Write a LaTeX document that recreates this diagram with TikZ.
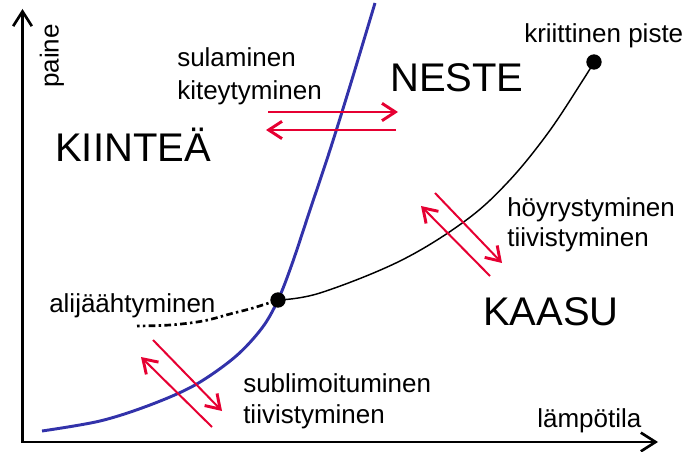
\documentclass[tikz,border=0pt]{standalone}
\usepackage{fontspec}
\setmainfont{Liberation Sans}
\usetikzlibrary{arrows.meta}
\definecolor{phasered}{RGB}{230,0,50}
\definecolor{phaseblue}{RGB}{50,50,170}
\tikzset{
  axisline/.style={line width=2.2pt,-{Straight Barb[length=11pt,width=14pt,line width=2pt]}},
  transarrow/.style={phasered,line width=1.5pt,-{Straight Barb[length=10pt,width=13pt,line width=2.2pt]}},
  bigtxt/.style={inner sep=0pt,anchor=base west,font=\fontsize{30pt}{34pt}\selectfont},
  smalltxt/.style={inner sep=0pt,anchor=base west,font=\fontsize{19.5pt}{23pt}\selectfont},
  pointdot/.style={circle,fill=black,inner sep=0pt,minimum size=11.5pt},
}
\begin{document}
\begin{tikzpicture}[x=0.75pt,y=-0.75pt]
\useasboundingbox (0,0) rectangle (688,452);
% axes
\coordinate (O) at (22.5,442);
\coordinate (ytip) at (22.5,9);
\coordinate (xtip) at (658,442);
\draw[axisline] (O) -- (ytip);
\draw[axisline] ([xshift=-1.1pt]O) -- (xtip);
% points
\coordinate (T) at (278,300);
\coordinate (C) at (594,62);
% melting / sublimation curve (blue)
\draw[phaseblue,line width=2.2pt] plot[smooth,tension=0.55] coordinates
 {(42,431) (100,421) (150,405) (195,385) (235,357) (262,328) (278,300) (292,264) (310,210) (330,150) (350,86) (375,3)};
% vaporisation curve
\draw[black,line width=1.1pt] plot[smooth,tension=0.6] coordinates
 {(278,300) (320,293) (400,261) (465,221) (508,182) (548,133) (583,80) (594,62)};
% supercooling (dashed)
\draw[black,line width=2pt,dash pattern=on 5pt off 2.5pt on 1.8pt off 2.5pt] plot[smooth,tension=0.6] coordinates
 {(278,300) (253,308) (230,314) (203,321) (170,325) (137,326)};
\node[pointdot] (triple) at (T) {};
\node[pointdot] (crit) at (C) {};
% transition arrows
\coordinate (m1a) at (268,112); \coordinate (m1b) at (398,112);
\coordinate (m2a) at (396,130); \coordinate (m2b) at (266,130);
\draw[transarrow] (m1a) -- (m1b);
\draw[transarrow] (m2a) -- (m2b);
\coordinate (v1a) at (435,193); \coordinate (v1b) at (502,263);
\coordinate (v2a) at (490,276); \coordinate (v2b) at (421,206);
\draw[transarrow] (v1a) -- (v1b);
\draw[transarrow] (v2a) -- (v2b);
\coordinate (s1a) at (153,340); \coordinate (s1b) at (222,411);
\coordinate (s2a) at (212,427); \coordinate (s2b) at (141,357);
\draw[transarrow] (s1a) -- (s1b);
\draw[transarrow] (s2a) -- (s2b);
% labels
\node[smalltxt,anchor=center,rotate=90] (paine) at (52,56) {paine};
\node[smalltxt] (lampo) at (537,427) {lämpötila};
\node[bigtxt] (kiintea) at (55,162) {KIINTEÄ};
\node[bigtxt] (neste) at (390,92) {NESTE};
\node[bigtxt] (kaasu) at (483,325) {KAASU};
\node[smalltxt] (sul) at (177,67) {sulaminen};
\node[smalltxt] (kit) at (177,100) {kiteytyminen};
\node[smalltxt] (hoy) at (507,217) {höyrystyminen};
\node[smalltxt] (tii1) at (507,247) {tiivistyminen};
\node[smalltxt] (subl) at (243,392) {sublimoituminen};
\node[smalltxt] (tii2) at (243,423) {tiivistyminen};
\node[smalltxt] (krit) at (524,43) {kriittinen piste};
\node[smalltxt] (ali) at (49,312) {alijäähtyminen};
\end{tikzpicture}
\end{document}
